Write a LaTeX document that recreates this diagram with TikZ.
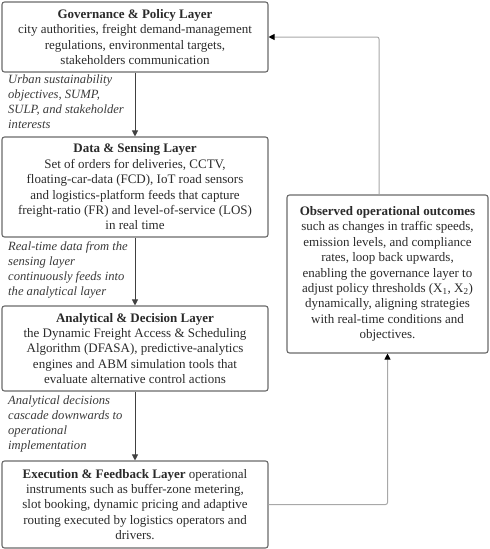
\documentclass[tikz,border=0pt]{standalone}
\usepackage{fontspec}
\setmainfont{Liberation Serif}
\usetikzlibrary{arrows.meta}
\definecolor{txt}{HTML}{2A2A2A}
\definecolor{lbl}{HTML}{3A3A3A}
\definecolor{boxc}{HTML}{6A6A6A}
\definecolor{fbline}{HTML}{A8A8A8}
\begin{document}
\begin{tikzpicture}[x=1pt,y=-1pt,
  layer/.style={draw=boxc, line width=1.1pt, rounded corners=2.5pt, align=center, text=txt,
    inner sep=0pt, font=\fontsize{13}{15.4}\selectfont},
  elabel/.style={anchor=north west, align=left, text=lbl, inner sep=0pt,
    font=\fontsize{12.6}{15}\selectfont\itshape},
  flow/.style={draw=black!75, line width=0.8pt, -{Triangle[length=6pt,width=6pt]}},
  fb/.style={draw=fbline, line width=1pt, rounded corners=2pt, -{Triangle[length=6pt,width=6pt,fill=black,color=black]}}
]
\useasboundingbox (0,0) rectangle (490,549);

\node[layer, minimum width=266pt, minimum height=70pt] (gov) at (135,37)
  {\textbf{Governance \& Policy Layer}\\ city authorities, freight demand-management\\ regulations, environmental targets,\\ stakeholders communication};

\node[layer, minimum width=266pt, minimum height=100pt] (dat) at (135,187)
  {\textbf{Data \& Sensing Layer}\\ Set of orders for deliveries, CCTV,\\ floating-car-data (FCD), IoT road sensors\\ and logistics-platform feeds that capture\\ freight-ratio (FR) and level-of-service (LOS)\\ in real time};

\node[layer, minimum width=266pt, minimum height=85pt] (ana) at (135,348.5)
  {\textbf{Analytical \& Decision Layer}\\ the Dynamic Freight Access \& Scheduling\\ Algorithm (DFASA), predictive-analytics\\ engines and ABM simulation tools that\\ evaluate alternative control actions};

\node[layer, minimum width=266pt, minimum height=87pt] (exe) at (135,504.5)
  {\textbf{Execution \& Feedback Layer} operational\\ instruments such as buffer-zone metering,\\ slot booking, dynamic pricing and adaptive\\ routing executed by logistics operators and\\ drivers.};

\node[layer, minimum width=201pt, minimum height=158pt] (obs) at (387.5,274)
  {\textbf{Observed operational outcomes}\\ such as changes in traffic speeds,\\ emission levels, and compliance\\ rates, loop back upwards,\\ enabling the governance layer to\\ adjust policy thresholds (X\textsubscript{1}, X\textsubscript{2})\\ dynamically, aligning strategies\\ with real-time conditions and\\ objectives.};

\node[elabel] (l1) at (8,75) {Urban sustainability\\ objectives, SUMP,\\ SULP, and stakeholder\\ interests};
\node[elabel] (l2) at (8,241) {Real-time data from the\\ sensing layer\\ continuously feeds into\\ the analytical layer};
\node[elabel] (l3) at (8,396) {Analytical decisions\\ cascade downwards to\\ operational\\ implementation};

\draw[flow] (gov.south) -- (dat.north);
\draw[flow] (dat.south) -- (ana.north);
\draw[flow] (ana.south) -- (exe.north);

\coordinate (c1) at (379,37);
\draw[fb] (c1 |- obs.north) |- (gov.east);
\draw[fb] (exe.east) -| (obs.south);
\end{tikzpicture}
\end{document}
